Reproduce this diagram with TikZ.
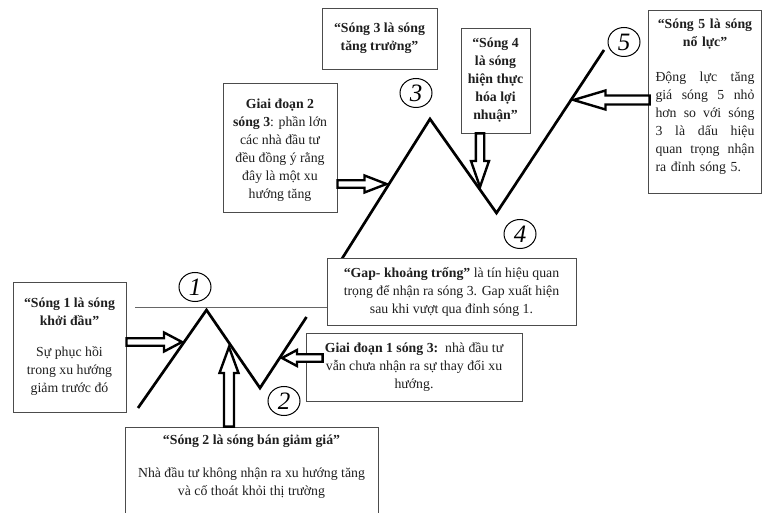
\documentclass[tikz,border=0pt]{standalone}
\usepackage{fontspec}
\setmainfont{Liberation Serif}
\usetikzlibrary{calc,shapes.geometric}
% block arrow: #1 shaft half width, #2 head half width, #3 head length, #4 start, #5 tip
\newcommand\blockarr[5]{%
  \coordinate (bneck) at ($(#5)!#3!(#4)$);
  \draw[barrow] ($(#4)!#1!90:(#5)$) -- ($(bneck)!#1!90:(#5)$) -- ($(bneck)!#2!90:(#5)$) -- (#5)
     -- ($(bneck)!#2!-90:(#5)$) -- ($(bneck)!#1!-90:(#5)$) -- ($(#4)!#1!-90:(#5)$) -- cycle;}
\newcommand\jline[1]{\leavevmode\hbox to 99pt{#1}}
\begin{document}
\begin{tikzpicture}[x=1pt,y=-1pt,
  infobox/.style={draw=black!70, line width=0.9pt, fill=white, inner sep=0pt, align=center,
    font=\fontsize{13.8}{18}\selectfont, text=black!88},
  txt/.style={inner sep=0pt, align=center, font=\fontsize{13.8}{18}\selectfont, text=black!88},
  wave/.style={line width=2.7pt, line join=miter, line cap=butt},
  barrow/.style={draw=black, line width=2.4pt, fill=white, line join=miter},
  num/.style={draw=black, line width=1pt, shape=ellipse, minimum width=32pt, minimum height=29pt,
    inner sep=0pt, font=\fontsize{25}{25}\selectfont\itshape}]
\useasboundingbox (0,0) rectangle (764,513);
% wave
\coordinate (s0) at (138,408);
\coordinate (p1) at (206.5,310);
\coordinate (p2) at (260,388);
\coordinate (e2) at (306.5,317);
\coordinate (s3) at (333.6,272);
\coordinate (p3) at (430,119);
\coordinate (p4) at (496.5,213);
\coordinate (e5) at (604,50);
\draw[wave] (s0) -- (p1) -- (p2) -- (e2);
\draw[wave] (s3) -- (p3) -- (p4) -- (e5);
% boxes
\node[infobox, minimum width=113pt, minimum height=130pt] (b1) at (69.5,347) {\textbf{“Sóng 1 là sóng}\\ \textbf{khởi đầu”}\\[13pt] Sự phục hồi\\ trong xu hướng\\ giảm trước đó};
\node[infobox, minimum width=253pt, minimum height=90pt] (b2) at (251.5,472) {};
\node[txt] (b2t) at (251.5,466.5) {\textbf{“Sóng 2 là sóng bán giảm giá”}\\[15pt] Nhà đầu tư không nhận ra xu hướng tăng\\ và cố thoát khỏi thị trường};
\node[infobox, minimum width=216pt, minimum height=68pt] (b3) at (414,367) {\textbf{Giai đoạn 1 sóng 3:}\ \ nhà đầu tư\\ vẫn chưa nhận ra sự thay đổi xu\\ hướng.};
\node[infobox, minimum width=249pt, minimum height=67pt] (gap) at (451.5,291.5) {\textbf{“Gap- khoảng trống”} là tín hiệu quan\\ trọng để nhận ra sóng 3. Gap xuất hiện\\ sau khi vượt qua đỉnh sóng 1.};
\node[infobox, minimum width=114pt, minimum height=129pt] (b4) at (280,147.5) {};
\node[txt] (b4t) at (280,150) {\textbf{Giai đoạn 2}\\ \textbf{sóng 3}: phần lớn\\ các nhà đầu tư\\ đều đồng ý rằng\\ đây là một xu\\ hướng tăng};
\node[infobox, minimum width=115pt, minimum height=61pt] (b5) at (379.5,38.5) {\textbf{“Sóng 3 là sóng}\\ \textbf{tăng trưởng”}};
\node[infobox, minimum width=69pt, minimum height=105pt] (b6) at (495.5,80.5) {\textbf{“Sóng 4}\\ \textbf{là sóng}\\ \textbf{hiện thực}\\ \textbf{hóa lợi}\\ \textbf{nhuận”}};
\node[infobox, minimum width=113pt, minimum height=183pt] (b7) at (704.5,101.5) {};
\node[txt, text width=99pt] (b7t) at (705,97) {\textbf{“Sóng 5 là sóng}\\ \textbf{nổ lực”}\\[17pt] \jline{Động\hfil lực\hfil tăng}\\ \jline{giá\hfil sóng\hfil 5\hfil nhỏ}\\ \jline{hơn\hfil so\hfil với\hfil sóng}\\ \jline{3\hfil là\hfil dấu\hfil hiệu}\\ \jline{quan\hfil trọng\hfil nhận}\\ \jline{ra đỉnh sóng 5.\hfil}};
% horizontal reference line
\coordinate (h0) at (135,307.5);
\draw[line width=0.8pt, black!60] (h0) -- (h0 -| gap.west);
% arrows
\coordinate (t1) at (182,342);
\coordinate (r1) at (b1.east |- t1);
\blockarr{3.75pt}{9.5pt}{18pt}{r1}{t1}
\coordinate (t2) at (229,347);
\coordinate (r2) at (b2.north -| t2);
\blockarr{5pt}{9.5pt}{26pt}{r2}{t2}
\coordinate (t3) at (282,358);
\coordinate (r3) at ($(b3.west |- t3)+(17,0)$);
\blockarr{3.75pt}{8pt}{15pt}{r3}{t3}
\coordinate (t4) at (386.5,184);
\coordinate (r4) at (b4.east |- t4);
\blockarr{3.75pt}{8.5pt}{22pt}{r4}{t4}
\coordinate (t5) at (480,187);
\coordinate (r5) at (b6.south -| t5);
\blockarr{4.2pt}{9pt}{26pt}{r5}{t5}
\coordinate (t6) at (573.5,100);
\coordinate (r6) at ($(b7.west |- t6)+(2,0)$);
\blockarr{4.5pt}{9.5pt}{32pt}{r6}{t6}
% wave numbers
\node[num] (c1) at (195,287) {1};
\node[num] (c2) at (284,401) {2};
\node[num] (c3) at (416,93) {3};
\node[num] (c4) at (520,234) {4};
\node[num] (c5) at (624,42) {5};
\end{tikzpicture}
\end{document}
